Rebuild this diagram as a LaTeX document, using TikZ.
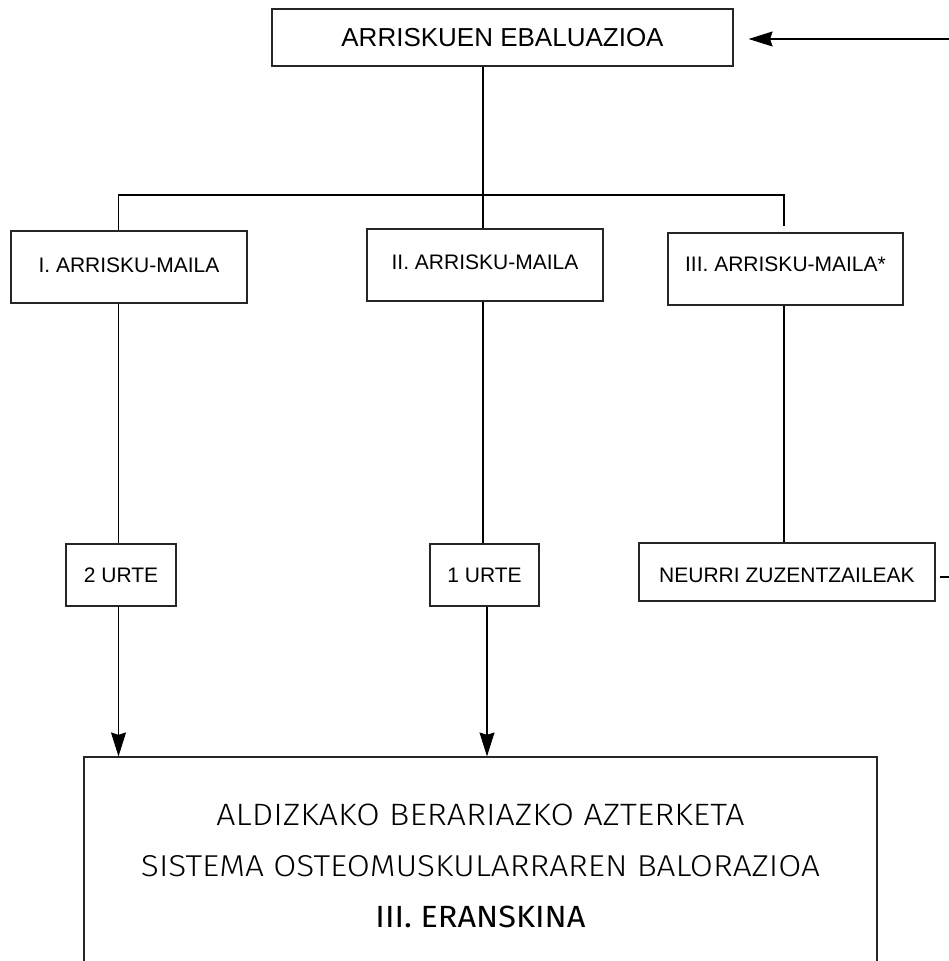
\documentclass[tikz,border=0pt]{standalone}
\usepackage{fontspec}
\usepackage{graphicx}
\setmainfont{Liberation Sans}
\IfFontExistsTF{Fira Sans Light}{\newfontfamily\lightfont{Fira Sans Light}}{\newfontfamily\lightfont{Fira Sans}}
\newfontfamily\regfont{Fira Sans}
\usetikzlibrary{arrows.meta}
\tikzset{
  box/.style={draw=black!85, line width=1.2pt, inner sep=0pt,
    font=\fontsize{21}{25}\selectfont, text height=15pt, text depth=0pt},
  conn/.style={line width=1.1pt, draw=black},
  arr/.style={conn, -{Stealth[length=24pt,width=15pt,inset=2.5pt]}},
}
\begin{document}
\begin{tikzpicture}[x=1pt,y=-1pt]
\useasboundingbox (0,0) rectangle (949,961);

% boxes
\node[box, minimum width=461pt, minimum height=57pt,
  font=\fontsize{26}{30}\selectfont, text height=18.6pt] (top) at (502.5,37.5) {ARRISKUEN EBALUAZIOA};
\node[box, minimum width=236pt, minimum height=72pt, text depth=4pt] (b1) at (129,267) {I. ARRISKU-MAILA};
\node[box, minimum width=236pt, minimum height=72pt, text depth=6pt] (b2) at (485,265) {II. ARRISKU-MAILA};
\node[box, minimum width=235pt, minimum height=72pt, text depth=10pt] (b3) at (785.5,269) {III. ARRISKU-MAILA*};
\node[box, minimum width=110pt, minimum height=62pt] (u2) at (121,575) {2 URTE};
\node[box, minimum width=109pt, minimum height=62pt] (u1) at (484.5,575) {1 URTE};
\node[box, minimum width=296pt, minimum height=58pt, text height=21pt] (nz) at (787,572) {NEURRI ZUZENTZAILEAK};
\node[draw=black!85, line width=1.2pt, inner sep=0pt, minimum width=793pt, minimum height=218pt,
  align=center, font=\fontsize{30}{51}\selectfont] (bot) at (480.5,866)
  {\resizebox{528pt}{21.5pt}{\lightfont ALDIZKAKO BERARIAZKO AZTERKETA}\\
   \resizebox{679pt}{21pt}{\lightfont SISTEMA OSTEOMUSKULARRAREN BALORAZIOA}\\
   \resizebox{210pt}{21.5pt}{\regfont III. ERANSKINA}};

% helper coordinates
\coordinate (jl) at (118.5,195);
\coordinate (jm) at (483,195);
\coordinate (jr) at (784,195);
\coordinate (jm2) at (487,195);
\coordinate (tin) at (949,39);
\coordinate (nzo) at (949,577);

% connectors
\draw[arr, shorten >=15pt] (tin) -- (top.east |- tin);
\draw[conn] (jm |- top.south) -- (jm |- b2.north);
\draw[conn, shorten >=6pt] (jl |- b1.north) -- (jl) -- (jr) -- (jr |- b3.north);
\draw[conn] (jl |- b1.south) -- (jl |- u2.north);
\draw[conn] (jm |- b2.south) -- (jm |- u1.north);
\draw[conn] (jr |- b3.south) -- (jr |- nz.north);
\draw[arr] (jl |- u2.south) -- (jl |- bot.north);
\draw[arr] (jm2 |- u1.south) -- (jm2 |- bot.north);
\draw[conn, shorten <=4pt] (nz.east |- nzo) -- (nzo);
\end{tikzpicture}
\end{document}
